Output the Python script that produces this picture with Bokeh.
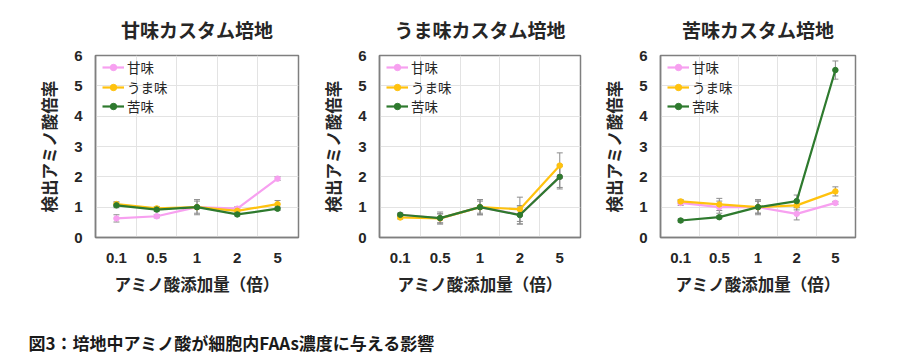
from bokeh.plotting import figure
from bokeh.models import (ColumnDataSource, Whisker, Range1d, FixedTicker, Legend,
                          LegendItem, Label)
from bokeh.layouts import column, row
from bokeh.embed import file_html
from bokeh.resources import INLINE

# ---- data ----
doses = ["0.1", "0.5", "1", "2", "5"]
series_names = ["甘味", "うま味", "苦味"]
panel_titles = ["甘味カスタム培地", "うま味カスタム培地", "苦味カスタム培地"]

sweet_medium_sweet = [0.63, 0.70, 1.00, 0.95, 1.94]
sweet_medium_umami = [1.10, 0.96, 1.00, 0.88, 1.10]
sweet_medium_bitter = [1.06, 0.92, 1.00, 0.76, 0.95]
sweet_medium_sweet_err = [0.12, 0.05, 0.05, 0.06, 0.06]
sweet_medium_umami_err = [0.08, 0.06, 0.20, 0.05, 0.12]
sweet_medium_bitter_err = [0.08, 0.06, 0.25, 0.05, 0.06]

umami_medium_sweet = [0.75, 0.63, 1.00, 0.75, 2.00]
umami_medium_umami = [0.66, 0.63, 1.00, 0.93, 2.37]
umami_medium_bitter = [0.75, 0.64, 1.00, 0.74, 2.00]
umami_medium_sweet_err = [0.05, 0.15, 0.20, 0.30, 0.35]
umami_medium_umami_err = [0.05, 0.15, 0.25, 0.40, 0.42]
umami_medium_bitter_err = [0.05, 0.20, 0.25, 0.30, 0.40]

bitter_medium_sweet = [1.14, 1.00, 1.00, 0.78, 1.14]
bitter_medium_umami = [1.19, 1.09, 1.00, 1.06, 1.52]
bitter_medium_bitter = [0.56, 0.67, 1.00, 1.20, 5.52]
bitter_medium_sweet_err = [0.08, 0.20, 0.20, 0.20, 0.05]
bitter_medium_umami_err = [0.06, 0.20, 0.25, 0.15, 0.15]
bitter_medium_bitter_err = [0.05, 0.05, 0.20, 0.20, 0.30]

y_ticks = [0, 1, 2, 3, 4, 5, 6]
caption_text = "図3：培地中アミノ酸が細胞内FAAs濃度に与える影響"

panels = [
    ([sweet_medium_sweet, sweet_medium_umami, sweet_medium_bitter],
     [sweet_medium_sweet_err, sweet_medium_umami_err, sweet_medium_bitter_err]),
    ([umami_medium_sweet, umami_medium_umami, umami_medium_bitter],
     [umami_medium_sweet_err, umami_medium_umami_err, umami_medium_bitter_err]),
    ([bitter_medium_sweet, bitter_medium_umami, bitter_medium_bitter],
     [bitter_medium_sweet_err, bitter_medium_umami_err, bitter_medium_bitter_err]),
]

# ---- styles ----
colors = ["#F7A0F0", "#FFC20E", "#2E7A2E"]
JP = "Noto Sans CJK JP"
NUM = "Liberation Sans"
TXT = "#262626"
FRAME = "#7F7F7F"

# layout geometry: (width, min_border_left, min_border_right)
geoms = [(310, 95, 12), (280, 69, 10), (306, 70, 41)]
TOP = 55
FRAME_H = 182
BOTTOM = 71
H = TOP + FRAME_H + BOTTOM
LEG_ROW = 19.8    # legend row pitch (px)
LEG_BOX_H = 19.6  # approx. height of one legend item box

figs = []
for i, ((vals, errs), title, (w, bl, br)) in enumerate(zip(panels, panel_titles, geoms)):
    p = figure(width=w, height=H, output_backend="svg", toolbar_location=None,
               x_range=Range1d(-0.52, 4.52), y_range=Range1d(0, 6),
               min_border_left=bl, min_border_right=br,
               min_border_top=TOP, min_border_bottom=BOTTOM)
    p.title.text = title
    p.title.align = "center"
    p.title.text_font = JP
    p.title.text_font_size = "19px"
    p.title.text_font_style = "bold"
    p.title.text_color = TXT
    p.title.standoff = 25

    p.outline_line_color = FRAME
    p.outline_line_width = 1.5

    x_idx = list(range(len(doses)))
    p.xaxis.ticker = FixedTicker(ticks=x_idx)
    p.xaxis.major_label_overrides = {k: lab for k, lab in zip(x_idx, doses)}
    p.yaxis.ticker = FixedTicker(ticks=y_ticks)
    p.xgrid.ticker = FixedTicker(ticks=[0.5, 1.5, 2.5, 3.5])
    p.ygrid.ticker = FixedTicker(ticks=y_ticks[1:-1])
    p.grid.grid_line_color = "#E3E3E3"
    p.grid.grid_line_width = 1

    for ax in (p.xaxis, p.yaxis):
        ax.axis_line_color = FRAME
        ax.axis_line_width = 1.5
        ax.major_tick_line_color = None
        ax.minor_tick_line_color = None
        ax.major_tick_out = 0
        ax.major_tick_in = 0
        ax.major_label_text_font = NUM
        ax.major_label_text_font_style = "bold"
        ax.major_label_text_font_size = "15px"
        ax.major_label_text_color = TXT
        ax.axis_label_text_font = JP
        ax.axis_label_text_font_style = "bold"
        ax.axis_label_text_font_size = "16.5px"
        ax.axis_label_text_color = TXT
    p.xaxis.major_label_standoff = 15
    p.xaxis.axis_label_standoff = 6
    p.xaxis.axis_label = "アミノ酸添加量（倍）"
    p.yaxis.major_label_standoff = 13
    p.yaxis.axis_label_standoff = 10
    p.yaxis.axis_label = "検出アミノ酸倍率"

    for k, (name, v, e, c) in enumerate(zip(series_names, vals, errs, colors)):
        src = ColumnDataSource(dict(x=x_idx, y=v,
                                    lo=[a - b for a, b in zip(v, e)],
                                    hi=[a + b for a, b in zip(v, e)]))
        wk = Whisker(base="x", upper="hi", lower="lo", source=src,
                     line_color="#8C8C8C", line_width=1)
        wk.upper_head.line_color = "#8C8C8C"
        wk.lower_head.line_color = "#8C8C8C"
        wk.upper_head.size = 6
        wk.lower_head.size = 6
        p.add_layout(wk)
        ln = p.line("x", "y", source=src, line_color=c, line_width=2.2)
        mk = p.scatter("x", "y", source=src, size=5.5, fill_color=c, line_color=c)

        row_center = 12 + LEG_ROW * k
        leg = Legend(items=[LegendItem(label=name, renderers=[ln, mk])],
                     location=(7, FRAME_H - row_center - LEG_BOX_H / 2))
        leg.background_fill_alpha = 0
        leg.border_line_color = None
        leg.label_text_font = JP
        leg.label_text_font_size = "13.5px"
        leg.label_text_color = TXT
        leg.glyph_width = 22
        leg.glyph_height = 16
        leg.label_height = 16
        leg.label_standoff = 3
        leg.spacing = 0
        leg.padding = 0
        leg.margin = 0
        p.add_layout(leg)
    figs.append(p)

cap = figure(width=896, height=52, output_backend="svg", toolbar_location=None,
             x_range=Range1d(0, 1), y_range=Range1d(0, 1),
             min_border=0, outline_line_color=None)
cap.axis.visible = False
cap.grid.visible = False
cap.add_layout(Label(x=28, y=18, x_units="screen", y_units="screen", text=caption_text,
                     text_font=JP, text_font_size="17px", text_font_style="bold",
                     text_baseline="middle", text_color="#1a1a1a"))

layout = column(row(*figs), cap)
open("out.html", "w").write(file_html(layout, INLINE))
